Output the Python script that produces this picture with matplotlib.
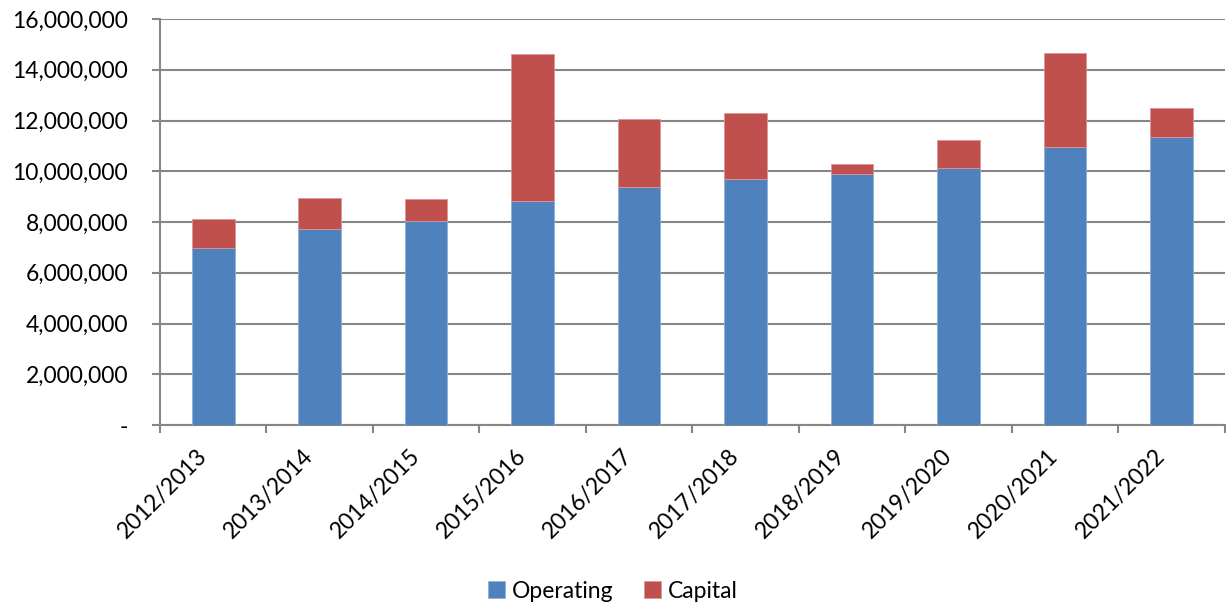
import numpy as np
import matplotlib.pyplot as plt
import matplotlib.transforms as mtransforms
from matplotlib.ticker import FuncFormatter, FixedLocator

years = ["2012/2013", "2013/2014", "2014/2015", "2015/2016", "2016/2017",
         "2017/2018", "2018/2019", "2019/2020", "2020/2021", "2021/2022"]
operating = [6990000, 7730000, 8040000, 8840000, 9400000,
             9690000, 9890000, 10120000, 10950000, 11350000]
capital = [1120000, 1220000, 870000, 5780000, 2660000,
           2590000, 390000, 1120000, 3720000, 1150000]

plt.rcParams['font.family'] = ['Lato', 'DejaVu Sans']
gris = '#868686'
tam = 16.5

fig = plt.figure(figsize=(12.26, 6.05), dpi=100)
ax = fig.add_axes([0.1305, 0.2975, 0.8685, 0.671])

x = np.arange(len(years))
ancho = 0.4
b1 = ax.bar(x, operating, ancho, color='#4F81BD', edgecolor='#8fb0da', linewidth=0.6,
            label='Operating', zorder=3)
b2 = ax.bar(x, capital, ancho, bottom=operating, color='#C0504D', edgecolor='#d99795',
            linewidth=0.6, label='Capital', zorder=3)

ax.set_xlim(-0.5, len(years) - 0.5)
ax.set_ylim(0, 16000000)
ax.set_yticks(np.arange(0, 16000001, 2000000))
ax.yaxis.set_major_formatter(FuncFormatter(lambda v, p: '-' if v == 0 else f'{int(v):,}'))
ax.grid(axis='y', color=gris, linewidth=1.5, zorder=0)

for lado in ['top', 'right']:
    ax.spines[lado].set_visible(False)
for lado in ['left', 'bottom']:
    ax.spines[lado].set_color(gris)
    ax.spines[lado].set_linewidth(1.5)

ax.tick_params(axis='y', length=6, width=1.5, color=gris, pad=17, labelsize=tam)
ax.set_xticks(x)
ax.set_xticklabels(years, rotation=45, ha='right', va='center', rotation_mode='anchor')
ax.tick_params(axis='x', which='major', length=0, pad=20, labelsize=tam)
desplaza = mtransforms.ScaledTranslation(-10 / 100, 0, fig.dpi_scale_trans)
for etiqueta in ax.get_xticklabels():
    etiqueta.set_transform(etiqueta.get_transform() + desplaza)
ax.xaxis.set_minor_locator(FixedLocator(np.arange(-0.5, len(years), 1.0)))
ax.tick_params(axis='x', which='minor', length=6, width=1.5, color=gris)

fig.legend(handles=[b1, b2], loc='center', bbox_to_anchor=(0.5, 1 - 591 / 605),
           ncol=2, frameon=False, fontsize=tam, handlelength=0.75, handleheight=0.75,
           handletextpad=0.3, columnspacing=1.3)

fig.savefig('out.png', dpi=100)
